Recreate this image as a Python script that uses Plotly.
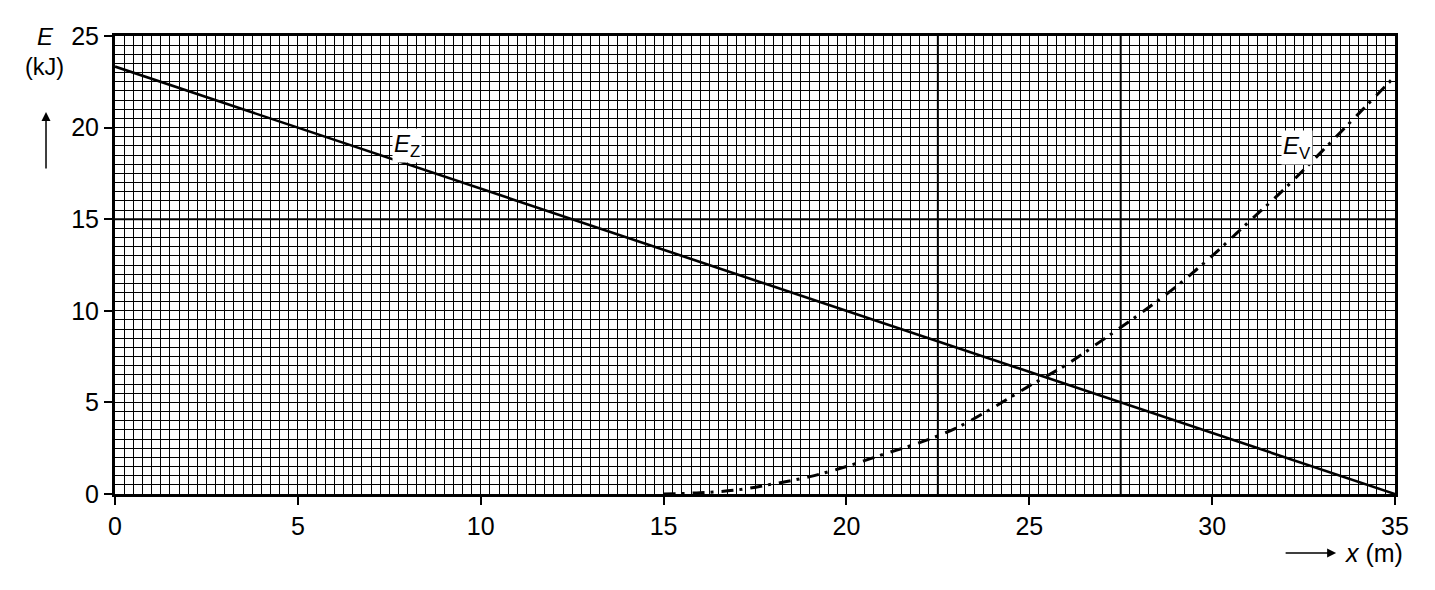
import plotly.graph_objects as go

# Data
ez_x = [0, 35]
ez_y = [23.33, 0]

ev_x = [15, 16, 17, 18, 19, 20, 21, 22, 23, 24, 25, 26, 27, 28, 29, 30, 31, 32, 33, 34, 35]
ev_y = [0, 0.07, 0.22, 0.55, 0.95, 1.5, 2.16, 2.8, 3.6, 4.7, 5.9, 7.04, 8.4, 9.8, 11.3,
        13.0, 14.85, 16.7, 18.7, 20.75, 22.8]

x_ticks = [0, 5, 10, 15, 20, 25, 30, 35]
y_ticks = [0, 5, 10, 15, 20, 25]

heavy_x = [22.5, 27.5]
heavy_y = [15]

FONT = "Liberation Sans, Arial, sans-serif"

fig = go.Figure()
fig.add_trace(go.Scatter(x=ez_x, y=ez_y, mode="lines",
                         line=dict(color="black", width=2.6), showlegend=False))
fig.add_trace(go.Scatter(x=ev_x, y=ev_y, mode="lines",
                         line=dict(color="black", width=3, dash="12px,6px,3px,8px", shape="spline"),
                         showlegend=False))

for xv in heavy_x:
    fig.add_shape(type="line", xref="x", yref="y", x0=xv, x1=xv, y0=0, y1=25,
                  line=dict(color="black", width=2), layer="below")
for yv in heavy_y:
    fig.add_shape(type="line", xref="x", yref="y", x0=0, x1=35, y0=yv, y1=yv,
                  line=dict(color="black", width=2), layer="below")

fig.update_xaxes(range=[0, 35], tickvals=x_ticks, ticks="outside", ticklen=8, tickwidth=2,
                 tickcolor="black", showline=True, linecolor="black", linewidth=3, mirror=True,
                 showgrid=True, gridcolor="black", gridwidth=1.2, zeroline=False,
                 minor=dict(dtick=0.25, tick0=0, showgrid=True, gridcolor="black", gridwidth=1.2),
                 tickfont=dict(size=25, color="black", family=FONT))
fig.update_yaxes(range=[0, 25], tickvals=y_ticks, ticks="outside", ticklen=8, tickwidth=2,
                 tickcolor="black", showline=True, linecolor="black", linewidth=3, mirror=True,
                 showgrid=True, gridcolor="black", gridwidth=1.2, zeroline=False,
                 minor=dict(dtick=0.5, tick0=0, showgrid=True, gridcolor="black", gridwidth=1.2),
                 tickfont=dict(size=25, color="black", family=FONT))

ann = []
ann.append(dict(xref="x", yref="y", x=7.98, y=19.0, text="<i>E</i><sub>Z</sub>", showarrow=False,
                bgcolor="white", font=dict(size=24, color="black", family=FONT), borderpad=1))
ann.append(dict(xref="x", yref="y", x=32.32, y=18.9, text="<i>E</i><sub>V</sub>", showarrow=False,
                bgcolor="white", font=dict(size=24, color="black", family=FONT), borderpad=1))
ann.append(dict(xref="paper", yref="paper", x=-0.054, y=0.998, text="<i>E</i>", showarrow=False,
                font=dict(size=24, color="black", family=FONT), xanchor="center", yanchor="middle"))
ann.append(dict(xref="paper", yref="paper", x=-0.055, y=0.932, text="(kJ)", showarrow=False,
                font=dict(size=23.5, color="black", family=FONT), xanchor="center", yanchor="middle"))
ann.append(dict(xref="paper", yref="paper", x=-0.0539, y=0.834, text="", showarrow=True,
                ax=0, ay=58, arrowhead=2, arrowsize=1.2,
                arrowwidth=1.5, arrowcolor="black"))
ann.append(dict(xref="paper", yref="paper", x=0.954, y=-0.129, text="", showarrow=True,
                ax=-52, ay=0, arrowhead=2, arrowsize=1.2, arrowwidth=1.5, arrowcolor="black"))
ann.append(dict(xref="paper", yref="paper", x=0.959, y=-0.129, text="<i>x</i> (m)", showarrow=False,
                font=dict(size=25, color="black", family=FONT), xanchor="left", yanchor="middle"))
fig.update_layout(annotations=ann)

fig.update_layout(width=1419, height=574, margin=dict(l=107, r=32, t=28, b=88),
                  paper_bgcolor="white", plot_bgcolor="white",
                  font=dict(family=FONT, color="black"), showlegend=False)

fig.write_html("out.html")
